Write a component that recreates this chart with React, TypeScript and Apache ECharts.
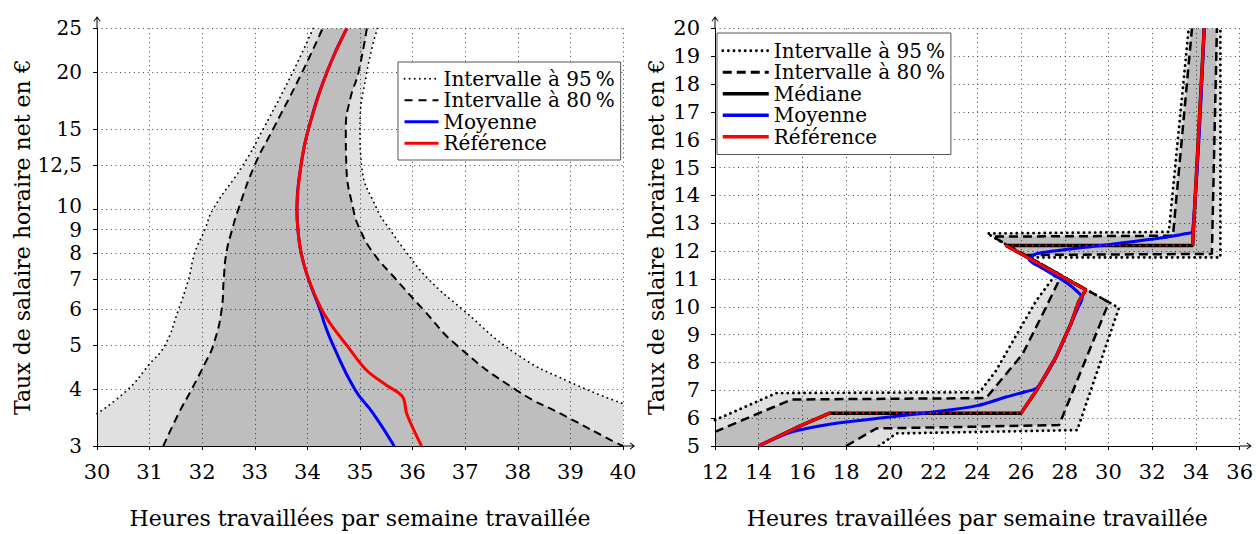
import React, { useEffect, useRef } from "react";
import * as echarts from "echarts";

type P = [number, number];

const FONT = "'DejaVu Serif', serif";

const N95 = "Intervalle à 95\u2009%";
const N80 = "Intervalle à 80\u2009%";
const NMED = "Médiane";
const NMEAN = "Moyenne";
const NREF = "Référence";
const X_NAME = "Heures travaillées par semaine travaillée";
const Y_NAME = "Taux de salaire horaire net en €";

// ---------------- Left panel (logarithmic wage axis) ----------------
const leftXMin = 30;
const leftXMax = 40;
const leftXStep = 1;
const leftYMin = 3;
const leftYMax = 25;
const leftYTicks = [3, 4, 5, 6, 7, 8, 9, 10, 12.5, 15, 20, 25];
const leftYTickLabels = ["3", "4", "5", "6", "7", "8", "9", "10", "12,5", "15", "20", "25"];

const leftLower95: P[] = [[30, 3.535], [30.59, 4], [31.0, 4.55], [31.29, 5], [31.55, 6], [31.74, 7], [31.86, 8], [32.05, 9], [32.21, 10], [32.78, 12.5], [33.16, 15], [33.72, 20], [34.11, 25]];
const leftUpper95: P[] = [[35.33, 25], [35.13, 20], [35.0, 15], [35.03, 12.5], [35.32, 10], [35.57, 9], [35.89, 8], [36.3, 7], [36.95, 6], [37.98, 4.78], [38.99, 4.15], [40, 3.72]];
const leftLower80: P[] = [[31.26, 3], [31.55, 3.535], [31.8, 4], [32.08, 4.63], [32.21, 5], [32.37, 6], [32.41, 7], [32.46, 8], [32.57, 9], [32.69, 10], [33.0, 12.5], [33.35, 15], [33.9, 20], [34.29, 25]];
const leftUpper80: P[] = [[35.13, 25], [34.97, 20], [34.81, 17.4], [34.73, 15], [34.74, 12.5], [34.87, 10], [35.0, 9], [35.25, 8], [35.68, 7], [36.2, 6], [36.84, 5], [37.98, 3.98], [38.93, 3.48], [39.82, 3.07], [40, 3]];
const leftMean: P[] = [[34.75, 25], [34.37, 20], [34.02, 15], [33.88, 12.5], [33.8, 10], [33.82, 9], [33.88, 8], [34.02, 7], [34.24, 6], [34.33, 5.56], [34.49, 5], [34.9, 4], [35.25, 3.54], [35.65, 3]];
const leftRef: P[] = [[34.75, 25], [34.37, 20], [34.02, 15], [33.88, 12.5], [33.8, 10], [33.82, 9], [33.88, 8], [34.02, 7], [34.27, 6], [34.49, 5.47], [34.75, 5], [35.13, 4.4], [35.51, 4.08], [35.81, 3.85], [35.89, 3.53], [36.17, 3]];

// ---------------- Right panel ----------------
const rightXMin = 12;
const rightXMax = 36;
const rightXStep = 2;
const rightYMin = 5;
const rightYMax = 20;
const rightYStep = 1;

const rightLower95: P[] = [[12, 5.93], [14.8, 6.9], [24.1, 6.93], [24.85, 7.7], [25.76, 8.95], [26.68, 10.2], [27.6, 11.18], [24.45, 12.63], [32.76, 12.69], [33.67, 20]];
const rightUpper95: P[] = [[19.5, 5.0], [20.29, 5.45], [28.57, 5.57], [30.48, 9.96], [26.39, 11.77], [35.12, 11.77], [35.12, 20]];
const rightLower80: P[] = [[12, 5.51], [15.5, 6.67], [24.4, 6.72], [26.07, 8.3], [27.13, 9.96], [27.85, 11.13], [24.7, 12.52], [32.95, 12.55], [33.82, 20]];
const rightUpper80: P[] = [[18.0, 5.0], [19.38, 5.63], [27.74, 5.75], [30.02, 10.16], [26.19, 11.86], [34.73, 11.9], [34.96, 20]];
const rightMedian: P[] = [[14, 5], [15.9, 5.72], [17.25, 6.18], [26.0, 6.18], [26.75, 7.05], [27.59, 8.18], [28.27, 9.37], [28.65, 10.2], [28.96, 10.61], [25.31, 12.2], [33.85, 12.2], [34.38, 20]];
const rightMean: P[] = [[14, 5], [15.5, 5.5], [17.4, 5.8], [20, 6.04], [22, 6.22], [24, 6.45], [25.31, 6.76], [26.2, 6.95], [26.75, 7.1], [27.59, 8.18], [28.27, 9.37], [28.6, 9.95], [28.8, 10.32], [28.5, 10.6], [28.1, 10.85], [27.59, 11.1], [26.9, 11.42], [26.37, 11.7], [26.68, 11.9], [29.26, 12.16], [32.3, 12.46], [33.5, 12.62], [33.85, 12.72], [34.38, 20]];
const rightRef: P[] = [[14, 5], [15.0, 5.38], [15.9, 5.72], [17.25, 6.18], [26.0, 6.18], [26.75, 7.05], [27.59, 8.18], [28.27, 9.37], [28.65, 10.2], [28.96, 10.61], [25.31, 12.2], [33.85, 12.2], [34.38, 20]];

// ---------------- layout / style constants ----------------
const PLOT_H = 421;
const SMOOTH_LEFT = 0.5;
// small pixel nudges (positive = up) so the tightly packed "8"/"9"/"10" labels do not collide
const leftLabelNudgePx: Record<string, number> = { "10": 2.7, "8": -0.6 };

const BREAK: any = [null, null];
const logP = (p: P): P => [p[0], Math.log(p[1])];
const joinWithBreak = (a: any[], b: any[]) => [...a, BREAK, ...b];

function pieces(pts: P[], wantFlat: boolean): any[] {
  const out: any[] = [];
  for (let i = 0; i < pts.length - 1; i++) {
    const a = pts[i];
    const b = pts[i + 1];
    const flat = a[1] === b[1];
    if (flat !== wantFlat) continue;
    const last = out[out.length - 1];
    if (!last || last[0] !== a[0] || last[1] !== a[1]) {
      if (out.length) out.push(BREAK);
      out.push(a);
    }
    out.push(b);
  }
  return out;
}

// Same smoothing rule as ECharts' line series, so fills follow the drawn curves.
function smoothPath(pts: number[][], smooth: number, start: string): string {
  const f = (v: number) => v.toFixed(2);
  let d = "";
  let prevX = 0, prevY = 0, cpx0 = 0, cpy0 = 0;
  const n = pts.length;
  let first = true;
  for (let i = 0; i < n; i++) {
    const x = pts[i][0];
    const y = pts[i][1];
    if (first) {
      d += `${start}${f(x)},${f(y)} `;
      cpx0 = x; cpy0 = y; prevX = x; prevY = y; first = false;
      continue;
    }
    const dx = x - prevX, dy = y - prevY;
    if (dx * dx + dy * dy < 0.5) continue;
    if (smooth > 0) {
      let cpx1: number, cpy1: number, nextCpx0 = x, nextCpy0 = y;
      if (i + 1 >= n) {
        cpx1 = x; cpy1 = y;
      } else {
        const nextX = pts[i + 1][0], nextY = pts[i + 1][1];
        let vx = nextX - prevX, vy = nextY - prevY;
        const dx0 = x - prevX, dx1 = nextX - x, dy0 = y - prevY, dy1 = nextY - y;
        const lenPrev = Math.sqrt(dx0 * dx0 + dy0 * dy0);
        const lenNext = Math.sqrt(dx1 * dx1 + dy1 * dy1) || 1e-6;
        const ratio = lenNext / (lenNext + lenPrev);
        nextCpx0 = x + vx * smooth * ratio;
        nextCpy0 = y + vy * smooth * ratio;
        nextCpx0 = Math.min(nextCpx0, Math.max(nextX, x));
        nextCpy0 = Math.min(nextCpy0, Math.max(nextY, y));
        nextCpx0 = Math.max(nextCpx0, Math.min(nextX, x));
        nextCpy0 = Math.max(nextCpy0, Math.min(nextY, y));
        vx = nextCpx0 - x; vy = nextCpy0 - y;
        cpx1 = x - vx * lenPrev / lenNext;
        cpy1 = y - vy * lenPrev / lenNext;
        cpx1 = Math.min(cpx1, Math.max(prevX, x));
        cpy1 = Math.min(cpy1, Math.max(prevY, y));
        cpx1 = Math.max(cpx1, Math.min(prevX, x));
        cpy1 = Math.max(cpy1, Math.min(prevY, y));
        vx = x - cpx1; vy = y - cpy1;
        nextCpx0 = x + vx * lenNext / lenPrev;
        nextCpy0 = y + vy * lenNext / lenPrev;
      }
      d += `C${f(cpx0)},${f(cpy0)} ${f(cpx1)},${f(cpy1)} ${f(x)},${f(y)} `;
      cpx0 = nextCpx0; cpy0 = nextCpy0;
    } else {
      d += `L${f(x)},${f(y)} `;
    }
    prevX = x; prevY = y;
  }
  return d;
}

const ARROW = "path://M3.5,0 L7,4.6 L6.3,5.2 L4,2.2 L4,12 L3,12 L3,2.2 L0.7,5.2 L0,4.6 Z";

const gridLine = { show: true, lineStyle: { color: "#444", width: 1, type: [1, 3.6] } };
const axisLine = {
  show: true,
  onZero: false,
  symbol: ["none", ARROW],
  symbolSize: [7, 12],
  symbolOffset: [0, 6],
  lineStyle: { color: "#000", width: 1 },
};
const axisTick = { show: true, length: 4, lineStyle: { color: "#000", width: 1 } };
const labelStyle = { fontFamily: FONT, fontSize: 21, color: "#000", lineHeight: 18 };
const nameStyle = { fontFamily: FONT, fontSize: 22, color: "#000" };

const FILL95 = "rgba(0,0,0,0.12)";
const FILL80 = "rgba(0,0,0,0.148)";

// band = lower boundary, then upper boundary, then closing corners (axis corners)
function bandSeries(lower: P[], upper: P[], closing: P[], idx: number, fill: string, smooth: number) {
  return {
    type: "custom",
    coordinateSystem: "cartesian2d",
    xAxisIndex: idx,
    yAxisIndex: idx,
    silent: true,
    clip: true,
    z: 1,
    data: [lower[0]],
    renderItem: (_params: any, api: any) => {
      const a = lower.map((p) => api.coord(p));
      const b = upper.map((p) => api.coord(p));
      const c = closing.map((p) => api.coord(p));
      let d = smoothPath(a, smooth, "M") + smoothPath(b, smooth, "L");
      c.forEach((p: number[]) => { d += `L${p[0].toFixed(2)},${p[1].toFixed(2)} `; });
      d += "Z";
      return { type: "path", shape: { pathData: d }, style: { fill, stroke: "none" } };
    },
  };
}

function lineSeries(name: string, data: any[], idx: number, color: string, width: number, type: any, z: number, smooth: number | boolean, cap = "butt") {
  return {
    type: "line",
    name,
    xAxisIndex: idx,
    yAxisIndex: idx,
    data,
    symbol: "none",
    showSymbol: false,
    smooth,
    connectNulls: false,
    clip: true,
    silent: true,
    z,
    lineStyle: { color, width, type, cap },
  };
}

function leftLabel(v: number): string {
  let best = 0;
  let bd = Infinity;
  leftYTicks.forEach((t, i) => {
    const d = Math.abs(Math.log(t) - v);
    if (d < bd) {
      bd = d;
      best = i;
    }
  });
  return leftYTickLabels[best];
}

function buildOption(): any {
  const L = (a: P[]) => a.map(logP);
  const revR95 = [...rightUpper95].reverse();
  const revR80 = [...rightUpper80].reverse();
  const logSpan = Math.log(leftYMax) - Math.log(leftYMin);
  const leftLabelValues = leftYTicks.map((t, i) => Math.log(t) + ((leftLabelNudgePx[leftYTickLabels[i]] || 0) / PLOT_H) * logSpan);

  const legendText = { fontFamily: FONT, fontSize: 20, color: "#000", lineHeight: 21.5 };
  const hidden = { opacity: 0, color: "rgba(0,0,0,0)", borderWidth: 0 };

  return {
    animation: false,
    backgroundColor: "#fff",
    grid: [
      { left: 97, top: 28.3, width: 526, height: PLOT_H },
      { left: 715, top: 28.3, width: 526, height: PLOT_H },
    ],
    legend: [
      {
        orient: "vertical",
        left: 398,
        top: 62,
        itemWidth: 34,
        itemHeight: 12,
        itemGap: 0,
        padding: [6, 6, 6, 5],
        borderColor: "#555",
        borderWidth: 1,
        backgroundColor: "#fff",
        selectedMode: false,
        textStyle: legendText,
        itemStyle: hidden,
        data: [
          { name: N95, itemStyle: hidden, lineStyle: { width: 1.8, type: [0.1, 5], cap: "round", color: "#000" } },
          { name: N80, itemStyle: hidden, lineStyle: { width: 2, type: [8, 6], color: "#000" } },
          { name: NMEAN, itemStyle: hidden, lineStyle: { width: 3, type: "solid", color: "#0000ff" } },
          { name: NREF, itemStyle: hidden, lineStyle: { width: 3, type: "solid", color: "#ff0000" } },
        ],
      },
      {
        orient: "vertical",
        left: 717,
        top: 33,
        itemWidth: 46,
        itemHeight: 12,
        itemGap: 0,
        padding: [7, 6, 7, 4],
        borderColor: "#555",
        borderWidth: 1,
        backgroundColor: "#fff",
        selectedMode: false,
        textStyle: legendText,
        itemStyle: hidden,
        data: [
          { name: N95, itemStyle: hidden, lineStyle: { width: 2.8, type: [0.1, 5.5], cap: "round", color: "#000" } },
          { name: N80, itemStyle: hidden, lineStyle: { width: 3, type: [9, 5], color: "#000" } },
          { name: NMED, itemStyle: hidden, lineStyle: { width: 3.5, type: "solid", color: "#000" } },
          { name: NMEAN, itemStyle: hidden, lineStyle: { width: 3.5, type: "solid", color: "#0000ff" } },
          { name: NREF, itemStyle: hidden, lineStyle: { width: 3.5, type: "solid", color: "#ff0000" } },
        ],
      },
    ],
    xAxis: [
      {
        gridIndex: 0,
        type: "value",
        min: leftXMin,
        max: leftXMax,
        interval: leftXStep,
        axisLine,
        axisTick,
        axisLabel: { ...labelStyle, margin: 17 },
        splitLine: gridLine,
        name: X_NAME,
        nameLocation: "middle",
        nameGap: 61,
        nameTextStyle: nameStyle,
      },
      {
        gridIndex: 1,
        type: "value",
        min: rightXMin,
        max: rightXMax,
        interval: rightXStep,
        axisLine,
        axisTick,
        axisLabel: { ...labelStyle, margin: 17 },
        splitLine: gridLine,
        name: X_NAME,
        nameLocation: "middle",
        nameGap: 61,
        nameTextStyle: nameStyle,
      },
    ],
    yAxis: [
      {
        gridIndex: 0,
        type: "value",
        min: Math.log(leftYMin),
        max: Math.log(leftYMax),
        axisLine,
        axisTick: { ...axisTick, customValues: leftYTicks.map((t) => Math.log(t)) },
        axisLabel: { ...labelStyle, fontSize: 20, margin: 15, customValues: leftLabelValues, formatter: (v: number) => leftLabel(v) },
        splitLine: gridLine,
        name: Y_NAME,
        nameLocation: "middle",
        nameGap: 60,
        nameTextStyle: nameStyle,
      },
      {
        gridIndex: 1,
        type: "value",
        min: rightYMin,
        max: rightYMax,
        interval: rightYStep,
        axisLine,
        axisTick,
        axisLabel: { ...labelStyle, margin: 15 },
        splitLine: gridLine,
        name: Y_NAME,
        nameLocation: "middle",
        nameGap: 48,
        nameTextStyle: nameStyle,
      },
    ],
    series: [
      // left panel
      bandSeries(L(leftLower95), L(leftUpper95), [logP([leftXMax, leftYMin]), logP([leftXMin, leftYMin])], 0, FILL95, SMOOTH_LEFT),
      bandSeries(L(leftLower80), L(leftUpper80), [], 0, FILL80, SMOOTH_LEFT),
      lineSeries(N95, joinWithBreak(L(leftLower95), L(leftUpper95)), 0, "#000", 1.8, [0.1, 5], 3, SMOOTH_LEFT, "round"),
      lineSeries(N80, joinWithBreak(L(leftLower80), L(leftUpper80)), 0, "#000", 2, [8, 5], 3, SMOOTH_LEFT),
      lineSeries(NMEAN, L(leftMean), 0, "#0000ff", 3, "solid", 5, SMOOTH_LEFT),
      lineSeries(NREF, L(leftRef), 0, "#ff0000", 3, "solid", 6, 0.35),
      // right panel
      bandSeries(rightLower95, revR95, [[rightXMin, rightYMin]], 1, FILL95, 0),
      bandSeries(rightLower80, revR80, [[rightXMin, rightYMin]], 1, FILL80, 0),
      lineSeries(N95, joinWithBreak(rightLower95, rightUpper95), 1, "#000", 2.8, [0.1, 5.5], 3, false, "round"),
      lineSeries(N80, joinWithBreak(rightLower80, rightUpper80), 1, "#000", 2.5, [9, 5], 3, false),
      lineSeries(NMED, rightMedian, 1, "#000", 3.5, "solid", 4, false),
      lineSeries(NMEAN, rightMean, 1, "#0000ff", 3, "solid", 5, 0.3),
      lineSeries(NREF, pieces(rightRef, false), 1, "#ff0000", 3, "solid", 6, false),
      lineSeries(NREF, pieces(rightRef, true), 1, "#ff0000", 2.2, [0.1, 6.6], 7, false, "round"),
    ],
  };
}

export default function App() {
  const ref = useRef<HTMLDivElement>(null);
  useEffect(() => {
    if (!ref.current) return;
    const chart = echarts.init(ref.current, null, { renderer: "svg" });
    chart.setOption(buildOption());
    return () => chart.dispose();
  }, []);
  return (
    <div
      ref={ref}
      style={{ position: "fixed", left: 0, top: 0, width: 1256, height: 534, background: "#fff" }}
    />
  );
}
